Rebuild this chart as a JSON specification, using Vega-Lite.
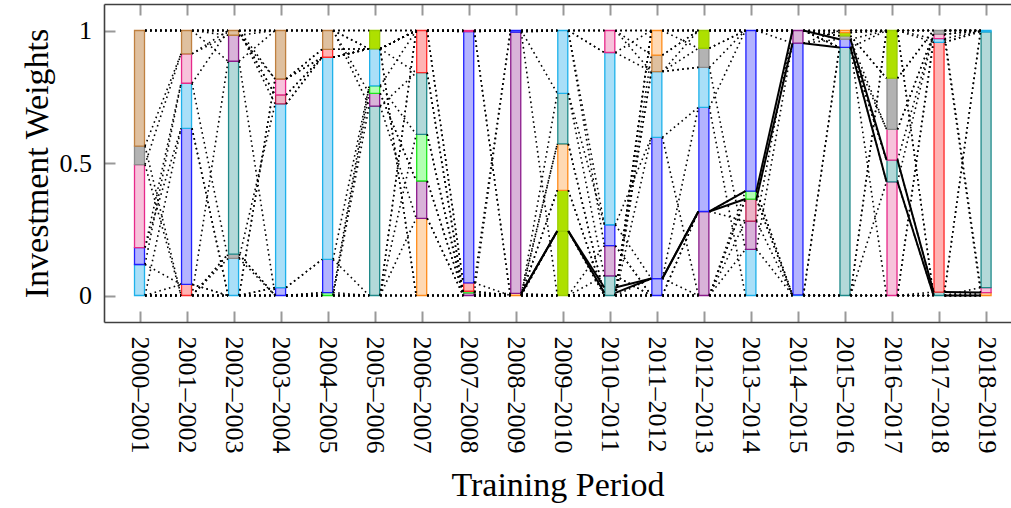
{
"$schema":"https://vega.github.io/schema/vega-lite/v6.json",
"width":907,"height":318,"autosize":"none",
"padding":{"left":104,"top":4,"right":0,"bottom":186},
"config":{"view":{"stroke":null},"scale":{"continuousPadding":0},
 "axis":{"labelFont":"Liberation Serif","titleFont":"Liberation Serif","labelFontSize":26,"titleFontSize":34,"titleFontWeight":"normal","labelColor":"#000","titleColor":"#000","domainColor":"#404040","domainWidth":1.6,"tickColor":"#999999","tickWidth":2,"tickSize":-11,"grid":false}},
"datasets":{
"w":[
{"p":0,"a":"C","w":0.117,"k":1},{"p":0,"a":"U","w":0.064,"k":2},{"p":0,"a":"P","w":0.313,"k":3},{"p":0,"a":"G","w":0.07,"k":4},{"p":0,"a":"B","w":0.436,"k":5},
{"p":0,"a":"R","w":0,"k":0},{"p":0,"a":"T","w":0,"k":0},{"p":0,"a":"N","w":0,"k":0},{"p":0,"a":"O","w":0,"k":0},{"p":0,"a":"L2","w":0,"k":0},{"p":0,"a":"U2","w":0,"k":0},{"p":0,"a":"V","w":0,"k":99},{"p":0,"a":"L","w":0,"k":99},{"p":0,"a":"S","w":0,"k":99},{"p":0,"a":"P2","w":0,"k":99},
{"p":1,"a":"R","w":0.042,"k":1},{"p":1,"a":"U","w":0.589,"k":2},{"p":1,"a":"C","w":0.17,"k":3},{"p":1,"a":"P","w":0.111,"k":4},{"p":1,"a":"B","w":0.088,"k":5},
{"p":1,"a":"G","w":0,"k":0},{"p":1,"a":"T","w":0,"k":0},{"p":1,"a":"N","w":0,"k":0},{"p":1,"a":"O","w":0,"k":0},{"p":1,"a":"L2","w":0,"k":0},{"p":1,"a":"U2","w":0,"k":0},{"p":1,"a":"V","w":0,"k":99},{"p":1,"a":"L","w":0,"k":99},{"p":1,"a":"S","w":0,"k":99},{"p":1,"a":"P2","w":0,"k":99},
{"p":2,"a":"C","w":0.14,"k":1},{"p":2,"a":"G","w":0.016,"k":2},{"p":2,"a":"T","w":0.728,"k":3},{"p":2,"a":"V","w":0.098,"k":4},{"p":2,"a":"B","w":0.018,"k":5},
{"p":2,"a":"R","w":0,"k":0},{"p":2,"a":"U","w":0,"k":0},{"p":2,"a":"N","w":0,"k":0},{"p":2,"a":"O","w":0,"k":0},{"p":2,"a":"L2","w":0,"k":0},{"p":2,"a":"U2","w":0,"k":0},{"p":2,"a":"P","w":0,"k":99},{"p":2,"a":"L","w":0,"k":99},{"p":2,"a":"S","w":0,"k":99},{"p":2,"a":"P2","w":0,"k":99},
{"p":3,"a":"U","w":0.03,"k":1},{"p":3,"a":"C","w":0.693,"k":2},{"p":3,"a":"S","w":0.034,"k":3},{"p":3,"a":"P","w":0.06,"k":4},{"p":3,"a":"B","w":0.183,"k":5},
{"p":3,"a":"R","w":0,"k":4.5},{"p":3,"a":"G","w":0,"k":0},{"p":3,"a":"T","w":0,"k":0},{"p":3,"a":"N","w":0,"k":0},{"p":3,"a":"O","w":0,"k":0},{"p":3,"a":"L2","w":0,"k":0},{"p":3,"a":"U2","w":0,"k":0},{"p":3,"a":"V","w":0,"k":99},{"p":3,"a":"L","w":0,"k":99},{"p":3,"a":"P2","w":0,"k":99},
{"p":4,"a":"N","w":0.011,"k":1},{"p":4,"a":"U","w":0.125,"k":2},{"p":4,"a":"C","w":0.763,"k":3},{"p":4,"a":"R","w":0.03,"k":4},{"p":4,"a":"B","w":0.071,"k":5},
{"p":4,"a":"S","w":0,"k":3.5},{"p":4,"a":"P","w":0,"k":3.5},{"p":4,"a":"G","w":0,"k":0},{"p":4,"a":"T","w":0,"k":0},{"p":4,"a":"O","w":0,"k":0},{"p":4,"a":"L2","w":0,"k":0},{"p":4,"a":"U2","w":0,"k":0},{"p":4,"a":"V","w":0,"k":99},{"p":4,"a":"L","w":0,"k":99},{"p":4,"a":"P2","w":0,"k":99},
{"p":5,"a":"T","w":0.715,"k":1},{"p":5,"a":"V","w":0.048,"k":2},{"p":5,"a":"N","w":0.028,"k":3},{"p":5,"a":"C","w":0.14,"k":4},{"p":5,"a":"L","w":0.069,"k":5},
{"p":5,"a":"R","w":0,"k":4.5},{"p":5,"a":"B","w":0,"k":4.5},{"p":5,"a":"P","w":0,"k":4.5},{"p":5,"a":"S","w":0,"k":4.5},{"p":5,"a":"G","w":0,"k":0},{"p":5,"a":"U","w":0,"k":0},{"p":5,"a":"O","w":0,"k":0},{"p":5,"a":"L2","w":0,"k":0},{"p":5,"a":"U2","w":0,"k":0},{"p":5,"a":"P2","w":0,"k":99},
{"p":6,"a":"O","w":0.291,"k":1},{"p":6,"a":"V","w":0.141,"k":2},{"p":6,"a":"N","w":0.176,"k":3},{"p":6,"a":"T","w":0.233,"k":4},{"p":6,"a":"R","w":0.159,"k":5},
{"p":6,"a":"S","w":0,"k":0},{"p":6,"a":"G","w":0,"k":0},{"p":6,"a":"L2","w":0,"k":0},{"p":6,"a":"U2","w":0,"k":0},{"p":6,"a":"C","w":0,"k":99},{"p":6,"a":"L","w":0,"k":99},{"p":6,"a":"B","w":0,"k":99},{"p":6,"a":"P","w":0,"k":99},{"p":6,"a":"U","w":0,"k":99},{"p":6,"a":"P2","w":0,"k":99},
{"p":7,"a":"V","w":0.01,"k":1},{"p":7,"a":"N","w":0.006,"k":2},{"p":7,"a":"R","w":0.032,"k":3},{"p":7,"a":"U","w":0.948,"k":4},{"p":7,"a":"P","w":0.004,"k":5},
{"p":7,"a":"O","w":0,"k":0},{"p":7,"a":"T","w":0,"k":0},{"p":7,"a":"G","w":0,"k":0},{"p":7,"a":"S","w":0,"k":0},{"p":7,"a":"L2","w":0,"k":0},{"p":7,"a":"U2","w":0,"k":0},{"p":7,"a":"C","w":0,"k":99},{"p":7,"a":"L","w":0,"k":99},{"p":7,"a":"B","w":0,"k":99},{"p":7,"a":"P2","w":0,"k":99},
{"p":8,"a":"O","w":0.008,"k":1},{"p":8,"a":"V","w":0.986,"k":2},{"p":8,"a":"U","w":0.006,"k":3},
{"p":8,"a":"N","w":0,"k":0},{"p":8,"a":"R","w":0,"k":0},{"p":8,"a":"T","w":0,"k":0},{"p":8,"a":"L","w":0,"k":0},{"p":8,"a":"L2","w":0,"k":0},{"p":8,"a":"G","w":0,"k":0},{"p":8,"a":"S","w":0,"k":0},{"p":8,"a":"U2","w":0,"k":0},{"p":8,"a":"P","w":0,"k":99},{"p":8,"a":"C","w":0,"k":99},{"p":8,"a":"B","w":0,"k":99},{"p":8,"a":"P2","w":0,"k":99},
{"p":9,"a":"L","w":0.243,"k":1},{"p":9,"a":"L2","w":0.154,"k":2},{"p":9,"a":"O","w":0.175,"k":3},{"p":9,"a":"T","w":0.191,"k":4},{"p":9,"a":"C","w":0.237,"k":5},
{"p":9,"a":"V","w":0,"k":0},{"p":9,"a":"N","w":0,"k":0},{"p":9,"a":"R","w":0,"k":0},{"p":9,"a":"G","w":0,"k":0},{"p":9,"a":"S","w":0,"k":0},{"p":9,"a":"U2","w":0,"k":0},{"p":9,"a":"U","w":0,"k":99},{"p":9,"a":"P","w":0,"k":99},{"p":9,"a":"B","w":0,"k":99},{"p":9,"a":"P2","w":0,"k":99},
{"p":10,"a":"T","w":0.074,"k":1},{"p":10,"a":"V","w":0.114,"k":2},{"p":10,"a":"U","w":0.079,"k":3},{"p":10,"a":"C","w":0.65,"k":4},{"p":10,"a":"P","w":0.083,"k":5},
{"p":10,"a":"L","w":0,"k":0},{"p":10,"a":"L2","w":0,"k":0},{"p":10,"a":"O","w":0,"k":0},{"p":10,"a":"G","w":0,"k":0},{"p":10,"a":"N","w":0,"k":0},{"p":10,"a":"R","w":0,"k":0},{"p":10,"a":"S","w":0,"k":0},{"p":10,"a":"U2","w":0,"k":0},{"p":10,"a":"B","w":0,"k":99},{"p":10,"a":"P2","w":0,"k":99},
{"p":11,"a":"U","w":0.064,"k":1},{"p":11,"a":"U2","w":0.533,"k":2},{"p":11,"a":"C","w":0.248,"k":3},{"p":11,"a":"B","w":0.062,"k":4},{"p":11,"a":"O","w":0.093,"k":5},
{"p":11,"a":"G","w":0,"k":3.5},{"p":11,"a":"T","w":0,"k":0},{"p":11,"a":"V","w":0,"k":0},{"p":11,"a":"L2","w":0,"k":0},{"p":11,"a":"N","w":0,"k":0},{"p":11,"a":"R","w":0,"k":0},{"p":11,"a":"S","w":0,"k":0},{"p":11,"a":"P","w":0,"k":99},{"p":11,"a":"L","w":0,"k":99},{"p":11,"a":"P2","w":0,"k":99},
{"p":12,"a":"V","w":0.317,"k":1},{"p":12,"a":"U","w":0.393,"k":2},{"p":12,"a":"C","w":0.151,"k":3},{"p":12,"a":"G","w":0.072,"k":4},{"p":12,"a":"L","w":0.067,"k":5},
{"p":12,"a":"U2","w":0,"k":0},{"p":12,"a":"T","w":0,"k":0},{"p":12,"a":"N","w":0,"k":0},{"p":12,"a":"R","w":0,"k":0},{"p":12,"a":"S","w":0,"k":0},{"p":12,"a":"L2","w":0,"k":0},{"p":12,"a":"B","w":0,"k":99},{"p":12,"a":"O","w":0,"k":99},{"p":12,"a":"P","w":0,"k":99},{"p":12,"a":"P2","w":0,"k":99},
{"p":13,"a":"C","w":0.174,"k":1},{"p":13,"a":"V","w":0.107,"k":2},{"p":13,"a":"S","w":0.083,"k":3},{"p":13,"a":"N","w":0.03,"k":4},{"p":13,"a":"U","w":0.606,"k":5},
{"p":13,"a":"T","w":0,"k":0},{"p":13,"a":"R","w":0,"k":0},{"p":13,"a":"U2","w":0,"k":0},{"p":13,"a":"L2","w":0,"k":0},{"p":13,"a":"G","w":0,"k":99},{"p":13,"a":"L","w":0,"k":99},{"p":13,"a":"B","w":0,"k":99},{"p":13,"a":"O","w":0,"k":99},{"p":13,"a":"P","w":0,"k":99},{"p":13,"a":"P2","w":0,"k":99},
{"p":14,"a":"C","w":0.002,"k":1},{"p":14,"a":"U","w":0.95,"k":2},{"p":14,"a":"V","w":0.048,"k":3},
{"p":14,"a":"S","w":0,"k":0},{"p":14,"a":"N","w":0,"k":0},{"p":14,"a":"T","w":0,"k":0},{"p":14,"a":"R","w":0,"k":0},{"p":14,"a":"U2","w":0,"k":0},{"p":14,"a":"L2","w":0,"k":0},{"p":14,"a":"G","w":0,"k":99},{"p":14,"a":"L","w":0,"k":99},{"p":14,"a":"B","w":0,"k":99},{"p":14,"a":"O","w":0,"k":99},{"p":14,"a":"P","w":0,"k":99},{"p":14,"a":"P2","w":0,"k":99},
{"p":15,"a":"T","w":0.936,"k":1},{"p":15,"a":"U","w":0.031,"k":2},{"p":15,"a":"G","w":0.013,"k":3},{"p":15,"a":"L","w":0.012,"k":4},{"p":15,"a":"O","w":0.008,"k":5},
{"p":15,"a":"P","w":0,"k":1.5},{"p":15,"a":"P2","w":0,"k":1.5},{"p":15,"a":"C","w":0,"k":0},{"p":15,"a":"R","w":0,"k":0},{"p":15,"a":"S","w":0,"k":0},{"p":15,"a":"N","w":0,"k":0},{"p":15,"a":"U2","w":0,"k":0},{"p":15,"a":"L2","w":0,"k":0},{"p":15,"a":"V","w":0,"k":99},{"p":15,"a":"B","w":0,"k":99},
{"p":16,"a":"P","w":0.429,"k":1},{"p":16,"a":"T","w":0.082,"k":2},{"p":16,"a":"P2","w":0.116,"k":3},{"p":16,"a":"G","w":0.193,"k":4},{"p":16,"a":"L","w":0.18,"k":5},
{"p":16,"a":"R","w":0,"k":0},{"p":16,"a":"N","w":0,"k":0},{"p":16,"a":"S","w":0,"k":0},{"p":16,"a":"U2","w":0,"k":0},{"p":16,"a":"L2","w":0,"k":0},{"p":16,"a":"U","w":0,"k":99},{"p":16,"a":"O","w":0,"k":99},{"p":16,"a":"V","w":0,"k":99},{"p":16,"a":"C","w":0,"k":99},{"p":16,"a":"B","w":0,"k":99},
{"p":17,"a":"T","w":0.013,"k":1},{"p":17,"a":"R","w":0.942,"k":2},{"p":17,"a":"C","w":0.014,"k":3},{"p":17,"a":"P","w":0.017,"k":4},{"p":17,"a":"G","w":0.014,"k":5},
{"p":17,"a":"P2","w":0,"k":4.5},{"p":17,"a":"O","w":0,"k":0},{"p":17,"a":"N","w":0,"k":0},{"p":17,"a":"S","w":0,"k":0},{"p":17,"a":"U2","w":0,"k":0},{"p":17,"a":"L2","w":0,"k":0},{"p":17,"a":"L","w":0,"k":99},{"p":17,"a":"U","w":0,"k":99},{"p":17,"a":"V","w":0,"k":99},{"p":17,"a":"B","w":0,"k":99},
{"p":18,"a":"O","w":0.011,"k":1},{"p":18,"a":"P","w":0.019,"k":2},{"p":18,"a":"T","w":0.965,"k":3},{"p":18,"a":"C","w":0.005,"k":4},
{"p":18,"a":"N","w":0,"k":0},{"p":18,"a":"S","w":0,"k":0},{"p":18,"a":"U2","w":0,"k":0},{"p":18,"a":"L2","w":0,"k":0},{"p":18,"a":"R","w":0,"k":99},{"p":18,"a":"G","w":0,"k":99},{"p":18,"a":"P2","w":0,"k":99},{"p":18,"a":"L","w":0,"k":99},{"p":18,"a":"U","w":0,"k":99},{"p":18,"a":"V","w":0,"k":99},{"p":18,"a":"B","w":0,"k":99}
],
"h":[
{"p":8,"lo":0.008,"hi":0.008},{"p":9,"lo":0.243,"hi":0.243},{"p":10,"lo":0.01,"hi":0.03},{"p":11,"lo":0.064,"hi":0.064},{"p":12,"lo":0.317,"hi":0.317},{"p":13,"lo":0.364,"hi":0.394},{"p":14,"lo":0.952,"hi":1.0},{"p":15,"lo":0.936,"hi":0.967},{"p":16,"lo":0.429,"hi":0.511},{"p":17,"lo":0.0,"hi":0.013},{"p":18,"lo":0.0,"hi":0.011}
]},
"layer":[
{"data":{"name":"w"},
 "transform":[{"stack":"w","groupby":["p"],"sort":[{"field":"k","order":"ascending"}],"as":["y0","y1"],"offset":"zero"},{"filter":"datum.w > 0"}],
 "mark":{"type":"bar","width":10,"strokeWidth":1.3},
 "encoding":{
  "x":{"field":"p","type":"quantitative","scale":{"domain":[-0.755,18.53],"nice":false,"zero":false,"padding":0},
   "axis":{"orient":"bottom","values":[0,1,2,3,4,5,6,7,8,9,10,11,12,13,14,15,16,17,18],"tickSize":-11,
    "labelExpr":"['2000–2001','2001–2002','2002–2003','2003–2004','2004–2005','2005–2006','2006–2007','2007–2008','2008–2009','2009–2010','2010–2011','2011–2012','2012–2013','2013–2014','2014–2015','2015–2016','2016–2017','2017–2018','2018–2019'][datum.value]",
    "labelAngle":90,"labelPadding":25,"labelFlush":false,"labelOverlap":false,"labelBound":false,"title":"Training Period","titlePadding":15}},
  "y":{"field":"y1","type":"quantitative","scale":{"domain":[-0.1,1.1],"nice":false,"zero":false},
   "axis":{"values":[0,0.5,1],"format":"~g","tickSize":-11,"title":"Investment Weights","labelPadding":23.5,"titlePadding":5}},
  "y2":{"field":"y0"},
  "fill":{"field":"a","type":"nominal","legend":null,"scale":{"domain":["B","G","P","P2","U","U2","C","R","V","T","L","L2","N","O","S"],"range":["#DFC09F","#B3B3B3","#F7C2DB","#F7C2DB","#B3B3FF","#B3B3FF","#A9DFF8","#FFB3B3","#D9B3D9","#B3D9D9","#AEE000","#AEE000","#B3FFB3","#FFD9B3","#ECB3C6"]}},
  "stroke":{"field":"a","type":"nominal","legend":null,"scale":{"domain":["B","G","P","P2","U","U2","C","R","V","T","L","L2","N","O","S"],"range":["#BF8040","#8C8C8C","#E7298A","#E7298A","#2020FF","#2020FF","#1EB1EA","#FF2A2A","#8B1A8B","#1F8A8A","#9ACD00","#9ACD00","#1EE61E","#FF8C1A","#BF1F50"]}}
 }},
{"data":{"name":"w"},
 "transform":[{"stack":"w","groupby":["p"],"sort":[{"field":"k","order":"ascending"}],"as":["y0","y1"],"offset":"zero"},
  {"window":[{"op":"lead","field":"y0","as":"n0"},{"op":"lead","field":"p","as":"pn"}],"groupby":["a"],"sort":[{"field":"p","order":"ascending"}]},
  {"filter":"isValid(datum.pn)"}],
 "mark":{"type":"rule","color":"#000","strokeWidth":1.6,"strokeDash":[1.6,3.4],"xOffset":5.5,"x2Offset":-5.5},
 "encoding":{
  "x":{"field":"p","type":"quantitative","scale":{"domain":[-0.755,18.53],"nice":false,"zero":false,"padding":0},
   "axis":{"orient":"top","values":[0,1,2,3,4,5,6,7,8,9,10,11,12,13,14,15,16,17,18],"tickSize":-11,"labels":false,"title":null}},
  "x2":{"field":"pn"},
  "y":{"field":"y0","type":"quantitative","scale":{"domain":[-0.1,1.1],"nice":false,"zero":false},
   "axis":{"values":[0,0.5,1],"format":"~g","tickSize":-11,"title":"Investment Weights","labelPadding":23.5,"titlePadding":5}},
  "y2":{"field":"n0"}
 }},
{"data":{"name":"w"},
 "transform":[{"stack":"w","groupby":["p"],"sort":[{"field":"k","order":"ascending"}],"as":["y0","y1"],"offset":"zero"},
  {"window":[{"op":"lead","field":"y1","as":"n1"},{"op":"lead","field":"p","as":"pn"}],"groupby":["a"],"sort":[{"field":"p","order":"ascending"}]},
  {"filter":"isValid(datum.pn)"}],
 "mark":{"type":"rule","color":"#000","strokeWidth":1.6,"strokeDash":[1.6,3.4],"xOffset":5.5,"x2Offset":-5.5},
 "encoding":{
  "x":{"field":"p","type":"quantitative","scale":{"domain":[-0.755,18.53],"nice":false,"zero":false,"padding":0},"axis":null},
  "x2":{"field":"pn"},
  "y":{"field":"y1","type":"quantitative","scale":{"domain":[-0.1,1.1],"nice":false,"zero":false},
   "axis":{"values":[0,0.5,1],"format":"~g","tickSize":-11,"title":"Investment Weights","labelPadding":23.5,"titlePadding":5}},
  "y2":{"field":"n1"}
 }},
{"data":{"name":"h"},
 "transform":[{"window":[{"op":"lead","field":"lo","as":"nlo"},{"op":"lead","field":"p","as":"pn"}],"sort":[{"field":"p","order":"ascending"}]},{"filter":"isValid(datum.pn)"}],
 "mark":{"type":"rule","color":"#000","strokeWidth":2,"xOffset":5.5,"x2Offset":-5.5},
 "encoding":{
  "x":{"field":"p","type":"quantitative","scale":{"domain":[-0.755,18.53],"nice":false,"zero":false,"padding":0},"axis":null},
  "x2":{"field":"pn"},
  "y":{"field":"lo","type":"quantitative","scale":{"domain":[-0.1,1.1],"nice":false,"zero":false},
   "axis":{"values":[0,0.5,1],"format":"~g","tickSize":-11,"title":"Investment Weights","labelPadding":23.5,"titlePadding":5}},
  "y2":{"field":"nlo"}
 }},
{"data":{"name":"h"},
 "transform":[{"window":[{"op":"lead","field":"hi","as":"nhi"},{"op":"lead","field":"p","as":"pn"}],"sort":[{"field":"p","order":"ascending"}]},{"filter":"isValid(datum.pn)"}],
 "mark":{"type":"rule","color":"#000","strokeWidth":2,"xOffset":5.5,"x2Offset":-5.5},
 "encoding":{
  "x":{"field":"p","type":"quantitative","scale":{"domain":[-0.755,18.53],"nice":false,"zero":false,"padding":0},"axis":null},
  "x2":{"field":"pn"},
  "y":{"field":"hi","type":"quantitative","scale":{"domain":[-0.1,1.1],"nice":false,"zero":false},
   "axis":{"values":[0,0.5,1],"format":"~g","tickSize":-11,"title":"Investment Weights","labelPadding":23.5,"titlePadding":5}},
  "y2":{"field":"nhi"}
 }}
],
"resolve":{"axis":{"x":"independent"}}
}
